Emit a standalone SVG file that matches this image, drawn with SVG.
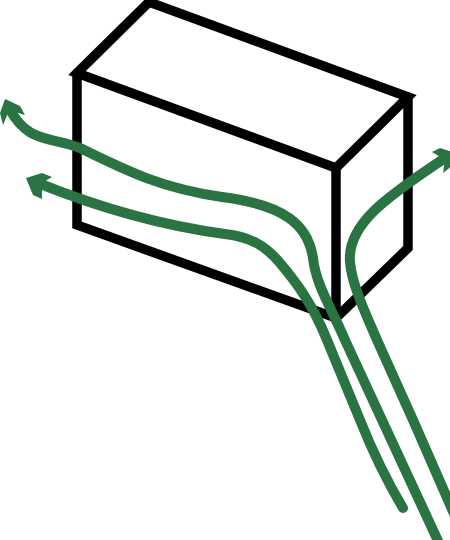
<svg xmlns="http://www.w3.org/2000/svg" width="450" height="540" viewBox="0 0 450 540">
<style>
.box{fill:none;stroke:#000;stroke-width:9.5;stroke-linejoin:miter;stroke-linecap:round}
.wire{fill:none;stroke:#2a7342;stroke-width:10;stroke-linecap:round}
.head{fill:#2a7342}
</style>
<rect width="450" height="540" fill="#fff"/>
<g id="box">
<path class="box" d="M77 73L149 2L408 97L336 168Z"/>
<path class="box" d="M77 73V225L336 318V168"/>
<path class="box" d="M336 318L408 248V97"/>
</g>
<g id="connectors">
<path class="wire" d="M403 508C385 478 372 450 360 420L327 340C312 303 296 282 280 263C265 245 250 237 225 234C165 226 100 208 38 183"/>
<path class="wire" d="M445 556L382 420L345 340C330 305 316 285 313 258C308 225 285 205 222 197C160 188 125 170 80 148C50 136 28 144 9 108"/>
<path class="wire" d="M455 516L413 420L377 340C365 312 352 285 350 262C347 225 385 198 442 160"/>
<path class="head" d="M5 99L20 106L25 115L15 112L8 113L3 125L0 113Z"/>
<path class="head" d="M26 178L42 173L52 177L42 183L42 199L33 195Z"/>
<path class="head" d="M432 152L440 148L452 152L452 166L443 173L445 160Z"/>
</g>
</svg>
